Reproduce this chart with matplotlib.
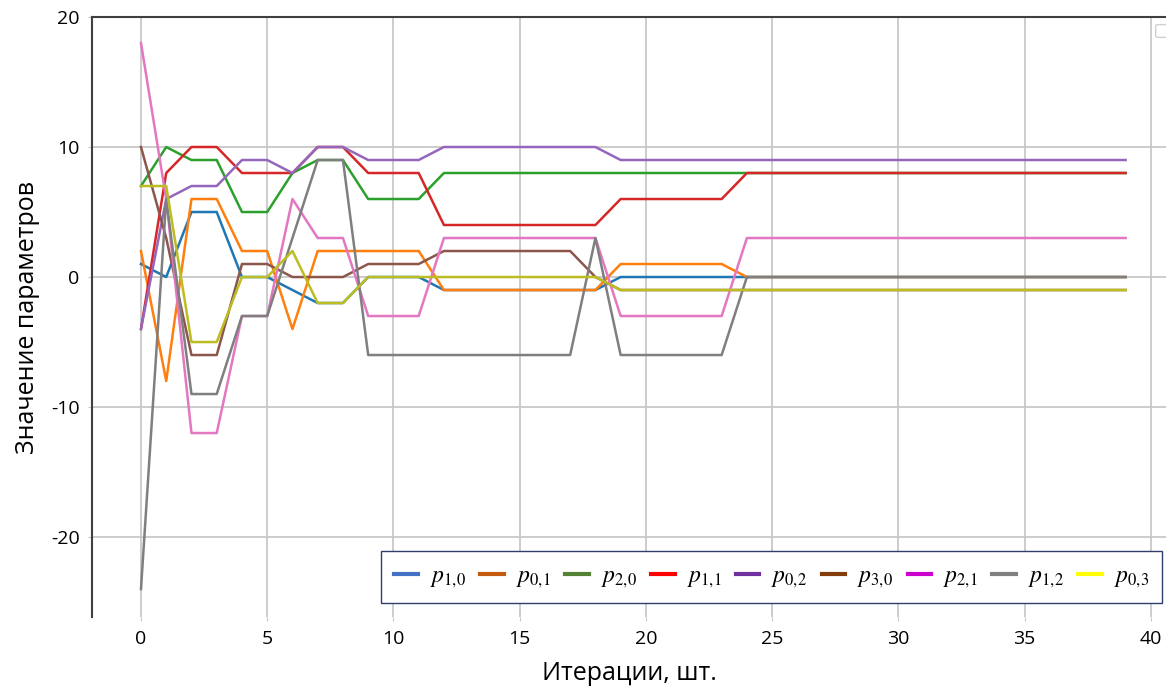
import matplotlib
matplotlib.use("Agg")
import matplotlib.pyplot as plt
from matplotlib.lines import Line2D
from matplotlib.patches import FancyBboxPatch

iterations = list(range(40))

p10 = [1, 0, 5, 5, 0, 0, -1, -2, -2, 0, 0, 0] + [-1] * 7 + [0] * 21
p01 = [2, -8, 6, 6, 2, 2, -4, 2, 2, 2, 2, 2] + [-1] * 7 + [1] * 5 + [0] * 16
p20 = [7, 10, 9, 9, 5, 5, 8, 9, 9, 6, 6, 6] + [8] * 28
p11 = [-4, 8, 10, 10, 8, 8, 8, 10, 10, 8, 8, 8] + [4] * 7 + [6] * 5 + [8] * 16
p02 = [-4, 6, 7, 7, 9, 9, 8, 10, 10, 9, 9, 9] + [10] * 7 + [9] * 21
p30 = [10, 3, -6, -6, 1, 1, 0, 0, 0, 1, 1, 1] + [2] * 6 + [0] + [-1] * 21
p21 = [18, 6, -12, -12, -3, -3, 6, 3, 3, -3, -3, -3] + [3] * 7 + [-3] * 5 + [3] * 16
p12 = [-24, 6, -9, -9, -3, -3, 3, 9, 9] + [-6] * 9 + [3] + [-6] * 5 + [0] * 16
p03 = [7, 7, -5, -5, 0, 0, 2, -2, -2] + [0] * 10 + [-1] * 21

series = [p10, p01, p20, p11, p02, p30, p21, p12, p03]
labels = [r"$p_{1{,}0}$", r"$p_{0{,}1}$", r"$p_{2{,}0}$", r"$p_{1{,}1}$", r"$p_{0{,}2}$",
          r"$p_{3{,}0}$", r"$p_{2{,}1}$", r"$p_{1{,}2}$", r"$p_{0{,}3}$"]
line_colors = ["#1f77b4", "#ff7f0e", "#2ca02c", "#d62728", "#9467bd",
               "#8c564b", "#e377c2", "#7f7f7f", "#bcbd22"]
legend_colors = ["#4472C4", "#C55A11", "#548235", "#FF0000", "#7030A0",
                 "#843C0C", "#CC00CC", "#808080", "#FFFF00"]

plt.rcParams['font.family'] = ['Open Sans', 'DejaVu Sans']
plt.rcParams['mathtext.fontset'] = 'stix'

fig = plt.figure(figsize=(11.66, 6.88), dpi=100)
ax = fig.add_axes([92 / 1166, 1 - 617 / 688, 1074 / 1166, 600 / 688])

for ys, c in zip(series, line_colors):
    ax.plot(iterations, ys, color=c, lw=1.8, zorder=3)

ax.set_xlim(-1.94, 40.6)
ax.set_ylim(-26.15, 20)
ax.set_xticks([0, 5, 10, 15, 20, 25, 30, 35, 40])
ax.set_yticks([-20, -10, 0, 10, 20])
ax.set_yticklabels(["-20", "-10", "0", "10", "20"])
ax.grid(True, color="#c8c8c8", lw=1.3, zorder=0)
ax.tick_params(axis='both', labelsize=14, length=3, color="#c8c8c8", pad=6)

for s in ["bottom", "right"]:
    ax.spines[s].set_visible(False)
for s in ["left", "top"]:
    ax.spines[s].set_color("#404040")
    ax.spines[s].set_linewidth(1.5)

ax.set_xlabel("Итерации, шт.", fontsize=18, labelpad=10)
ax.set_ylabel("Значение параметров", fontsize=18, labelpad=8)

handles = [Line2D([0], [0], color=c, lw=3) for c in legend_colors]
leg = ax.legend(handles, labels, ncol=9, loc="lower right",
                bbox_to_anchor=(0.9963, 0.0233), borderaxespad=0, fontsize=17,
                handlelength=1.0, handletextpad=0.5, columnspacing=0.62,
                frameon=True, fancybox=False, borderpad=0.55)
leg.get_frame().set_edgecolor("#2F3E6E")
leg.get_frame().set_linewidth(1.0)
leg.get_frame().set_alpha(1)

fig.patches.append(FancyBboxPatch((1158 / 1166, 1 - 36 / 688), 10 / 1166, 10 / 688,
                                  boxstyle="round,pad=0.002", transform=fig.transFigure,
                                  facecolor="white", edgecolor="#d0d0d0", lw=1))

fig.savefig("out.png", dpi=100)
